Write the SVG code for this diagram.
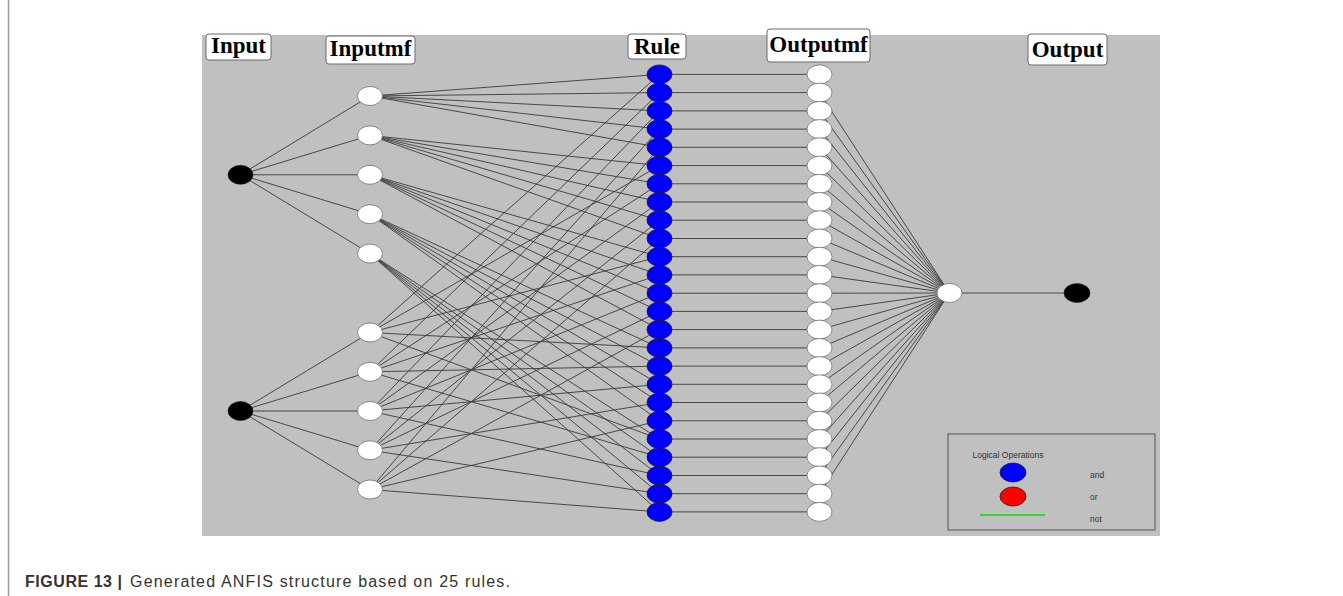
<svg xmlns="http://www.w3.org/2000/svg" width="1343" height="596" viewBox="0 0 1343 596">
<style>
.bg{fill:#c0c0c0}
.lbl{fill:#fff;stroke:#6a6a6a;stroke-width:1}
.lt{font-family:"Liberation Serif","Times New Roman",serif;font-weight:bold;font-size:23px;fill:#000;text-anchor:middle}
.c{stroke:#3a3a3a;stroke-width:0.9;fill:none}
.w{fill:#fff;stroke:#707070;stroke-width:0.8}
.b{fill:#0000ff;stroke:#202020;stroke-width:0.8}
.k{fill:#000;stroke:#202020;stroke-width:0.6}
.sm{font-family:"Liberation Sans",Arial,sans-serif;font-size:8.5px;fill:#333}
.cap{font-family:"Liberation Sans",Arial,sans-serif;font-size:16px;fill:#333}
</style>
<rect x="0" y="0" width="1343" height="596" fill="#fff"/>
<line x1="8.5" y1="0" x2="8.5" y2="596" stroke="#9a9a9a" stroke-width="1.5"/>
<rect class="bg" x="202" y="35" width="958" height="501"/>

<g id="connectors">
<path class="c" d="M240.5,174.8L370,96M240.5,174.8L370,135.4M240.5,174.8L370,174.8M240.5,174.8L370,214.2M240.5,174.8L370,253.6
M240.5,411L370,332.5M240.5,411L370,371.8M240.5,411L370,411M240.5,411L370,450.3M240.5,411L370,489.5"/>
<path class="c" d="M370,96L659.5,74.4M370,96L659.5,92.6M370,96L659.5,110.9M370,96L659.5,129.1M370,96L659.5,147.3
M370,135.4L659.5,165.6M370,135.4L659.5,183.8M370,135.4L659.5,202M370,135.4L659.5,220.2M370,135.4L659.5,238.5
M370,174.8L659.5,256.7M370,174.8L659.5,274.9M370,174.8L659.5,293.2M370,174.8L659.5,311.4M370,174.8L659.5,329.6
M370,214.2L659.5,347.9M370,214.2L659.5,366.1M370,214.2L659.5,384.3M370,214.2L659.5,402.5M370,214.2L659.5,420.8
M370,253.6L659.5,439M370,253.6L659.5,457.2M370,253.6L659.5,475.5M370,253.6L659.5,493.7M370,253.6L659.5,511.9"/>
<path class="c" d="M370,332.5L659.5,74.4M370,332.5L659.5,165.6M370,332.5L659.5,256.7M370,332.5L659.5,347.9M370,332.5L659.5,439
M370,371.8L659.5,92.6M370,371.8L659.5,183.8M370,371.8L659.5,274.9M370,371.8L659.5,366.1M370,371.8L659.5,457.2
M370,411L659.5,110.9M370,411L659.5,202M370,411L659.5,293.2M370,411L659.5,384.3M370,411L659.5,475.5
M370,450.3L659.5,129.1M370,450.3L659.5,220.2M370,450.3L659.5,311.4M370,450.3L659.5,402.5M370,450.3L659.5,493.7
M370,489.5L659.5,147.3M370,489.5L659.5,238.5M370,489.5L659.5,329.6M370,489.5L659.5,420.8M370,489.5L659.5,511.9"/>
<path class="c" d="M659.5,74.4H819.5M659.5,92.6H819.5M659.5,110.9H819.5M659.5,129.1H819.5M659.5,147.3H819.5
M659.5,165.6H819.5M659.5,183.8H819.5M659.5,202H819.5M659.5,220.2H819.5M659.5,238.5H819.5
M659.5,256.7H819.5M659.5,274.9H819.5M659.5,293.2H819.5M659.5,311.4H819.5M659.5,329.6H819.5
M659.5,347.9H819.5M659.5,366.1H819.5M659.5,384.3H819.5M659.5,402.5H819.5M659.5,420.8H819.5
M659.5,439H819.5M659.5,457.2H819.5M659.5,475.5H819.5M659.5,493.7H819.5M659.5,511.9H819.5"/>
<path class="c" d="M819.5,92.6L949.5,293M819.5,110.9L949.5,293M819.5,129.1L949.5,293M819.5,147.3L949.5,293
M819.5,165.6L949.5,293M819.5,183.8L949.5,293M819.5,202L949.5,293M819.5,220.2L949.5,293M819.5,238.5L949.5,293
M819.5,256.7L949.5,293M819.5,274.9L949.5,293M819.5,293.2L949.5,293M819.5,311.4L949.5,293M819.5,329.6L949.5,293
M819.5,347.9L949.5,293M819.5,366.1L949.5,293M819.5,384.3L949.5,293M819.5,402.5L949.5,293M819.5,420.8L949.5,293
M819.5,439L949.5,293M819.5,457.2L949.5,293M819.5,475.5L949.5,293M819.5,493.7L949.5,293"/>
<path class="c" d="M949.5,293H1077" stroke-width="1.3"/>
</g>

<g id="label-input"><rect class="lbl" x="206" y="34" width="65" height="26" rx="3"/><text class="lt" x="238.5" y="53">Input</text></g>
<g id="label-inputmf"><rect class="lbl" x="326" y="36" width="89" height="28" rx="3"/><text class="lt" x="370.5" y="56">Inputmf</text></g>
<g id="label-rule"><rect class="lbl" x="628" y="34" width="58" height="25" rx="3"/><text class="lt" x="657" y="54">Rule</text></g>
<g id="label-outputmf"><rect class="lbl" x="767" y="29" width="103" height="33" rx="3"/><text class="lt" x="818.5" y="52">Outputmf</text></g>
<g id="label-output"><rect class="lbl" x="1028" y="34" width="79" height="31" rx="3"/><text class="lt" x="1067.5" y="57">Output</text></g>

<g id="input1"><ellipse class="k" cx="240.5" cy="174.8" rx="12.5" ry="9.5"/></g>
<g id="input2"><ellipse class="k" cx="240.5" cy="411" rx="12.5" ry="9.5"/></g>

<g id="inputmf1-1"><ellipse class="w" cx="370" cy="96" rx="12.5" ry="9.5"/></g>
<g id="inputmf1-2"><ellipse class="w" cx="370" cy="135.4" rx="12.5" ry="9.5"/></g>
<g id="inputmf1-3"><ellipse class="w" cx="370" cy="174.8" rx="12.5" ry="9.5"/></g>
<g id="inputmf1-4"><ellipse class="w" cx="370" cy="214.2" rx="12.5" ry="9.5"/></g>
<g id="inputmf1-5"><ellipse class="w" cx="370" cy="253.6" rx="12.5" ry="9.5"/></g>
<g id="inputmf2-1"><ellipse class="w" cx="370" cy="332.5" rx="12.5" ry="9.5"/></g>
<g id="inputmf2-2"><ellipse class="w" cx="370" cy="371.8" rx="12.5" ry="9.5"/></g>
<g id="inputmf2-3"><ellipse class="w" cx="370" cy="411" rx="12.5" ry="9.5"/></g>
<g id="inputmf2-4"><ellipse class="w" cx="370" cy="450.3" rx="12.5" ry="9.5"/></g>
<g id="inputmf2-5"><ellipse class="w" cx="370" cy="489.5" rx="12.5" ry="9.5"/></g>

<g id="rule1"><ellipse class="b" cx="659.5" cy="74.4" rx="12.5" ry="9.5"/></g>
<g id="rule2"><ellipse class="b" cx="659.5" cy="92.6" rx="12.5" ry="9.5"/></g>
<g id="rule3"><ellipse class="b" cx="659.5" cy="110.9" rx="12.5" ry="9.5"/></g>
<g id="rule4"><ellipse class="b" cx="659.5" cy="129.1" rx="12.5" ry="9.5"/></g>
<g id="rule5"><ellipse class="b" cx="659.5" cy="147.3" rx="12.5" ry="9.5"/></g>
<g id="rule6"><ellipse class="b" cx="659.5" cy="165.6" rx="12.5" ry="9.5"/></g>
<g id="rule7"><ellipse class="b" cx="659.5" cy="183.8" rx="12.5" ry="9.5"/></g>
<g id="rule8"><ellipse class="b" cx="659.5" cy="202" rx="12.5" ry="9.5"/></g>
<g id="rule9"><ellipse class="b" cx="659.5" cy="220.2" rx="12.5" ry="9.5"/></g>
<g id="rule10"><ellipse class="b" cx="659.5" cy="238.5" rx="12.5" ry="9.5"/></g>
<g id="rule11"><ellipse class="b" cx="659.5" cy="256.7" rx="12.5" ry="9.5"/></g>
<g id="rule12"><ellipse class="b" cx="659.5" cy="274.9" rx="12.5" ry="9.5"/></g>
<g id="rule13"><ellipse class="b" cx="659.5" cy="293.2" rx="12.5" ry="9.5"/></g>
<g id="rule14"><ellipse class="b" cx="659.5" cy="311.4" rx="12.5" ry="9.5"/></g>
<g id="rule15"><ellipse class="b" cx="659.5" cy="329.6" rx="12.5" ry="9.5"/></g>
<g id="rule16"><ellipse class="b" cx="659.5" cy="347.9" rx="12.5" ry="9.5"/></g>
<g id="rule17"><ellipse class="b" cx="659.5" cy="366.1" rx="12.5" ry="9.5"/></g>
<g id="rule18"><ellipse class="b" cx="659.5" cy="384.3" rx="12.5" ry="9.5"/></g>
<g id="rule19"><ellipse class="b" cx="659.5" cy="402.5" rx="12.5" ry="9.5"/></g>
<g id="rule20"><ellipse class="b" cx="659.5" cy="420.8" rx="12.5" ry="9.5"/></g>
<g id="rule21"><ellipse class="b" cx="659.5" cy="439" rx="12.5" ry="9.5"/></g>
<g id="rule22"><ellipse class="b" cx="659.5" cy="457.2" rx="12.5" ry="9.5"/></g>
<g id="rule23"><ellipse class="b" cx="659.5" cy="475.5" rx="12.5" ry="9.5"/></g>
<g id="rule24"><ellipse class="b" cx="659.5" cy="493.7" rx="12.5" ry="9.5"/></g>
<g id="rule25"><ellipse class="b" cx="659.5" cy="511.9" rx="12.5" ry="9.5"/></g>

<g id="outputmf1"><ellipse class="w" cx="819.5" cy="74.4" rx="12.5" ry="9.5"/></g>
<g id="outputmf2"><ellipse class="w" cx="819.5" cy="92.6" rx="12.5" ry="9.5"/></g>
<g id="outputmf3"><ellipse class="w" cx="819.5" cy="110.9" rx="12.5" ry="9.5"/></g>
<g id="outputmf4"><ellipse class="w" cx="819.5" cy="129.1" rx="12.5" ry="9.5"/></g>
<g id="outputmf5"><ellipse class="w" cx="819.5" cy="147.3" rx="12.5" ry="9.5"/></g>
<g id="outputmf6"><ellipse class="w" cx="819.5" cy="165.6" rx="12.5" ry="9.5"/></g>
<g id="outputmf7"><ellipse class="w" cx="819.5" cy="183.8" rx="12.5" ry="9.5"/></g>
<g id="outputmf8"><ellipse class="w" cx="819.5" cy="202" rx="12.5" ry="9.5"/></g>
<g id="outputmf9"><ellipse class="w" cx="819.5" cy="220.2" rx="12.5" ry="9.5"/></g>
<g id="outputmf10"><ellipse class="w" cx="819.5" cy="238.5" rx="12.5" ry="9.5"/></g>
<g id="outputmf11"><ellipse class="w" cx="819.5" cy="256.7" rx="12.5" ry="9.5"/></g>
<g id="outputmf12"><ellipse class="w" cx="819.5" cy="274.9" rx="12.5" ry="9.5"/></g>
<g id="outputmf13"><ellipse class="w" cx="819.5" cy="293.2" rx="12.5" ry="9.5"/></g>
<g id="outputmf14"><ellipse class="w" cx="819.5" cy="311.4" rx="12.5" ry="9.5"/></g>
<g id="outputmf15"><ellipse class="w" cx="819.5" cy="329.6" rx="12.5" ry="9.5"/></g>
<g id="outputmf16"><ellipse class="w" cx="819.5" cy="347.9" rx="12.5" ry="9.5"/></g>
<g id="outputmf17"><ellipse class="w" cx="819.5" cy="366.1" rx="12.5" ry="9.5"/></g>
<g id="outputmf18"><ellipse class="w" cx="819.5" cy="384.3" rx="12.5" ry="9.5"/></g>
<g id="outputmf19"><ellipse class="w" cx="819.5" cy="402.5" rx="12.5" ry="9.5"/></g>
<g id="outputmf20"><ellipse class="w" cx="819.5" cy="420.8" rx="12.5" ry="9.5"/></g>
<g id="outputmf21"><ellipse class="w" cx="819.5" cy="439" rx="12.5" ry="9.5"/></g>
<g id="outputmf22"><ellipse class="w" cx="819.5" cy="457.2" rx="12.5" ry="9.5"/></g>
<g id="outputmf23"><ellipse class="w" cx="819.5" cy="475.5" rx="12.5" ry="9.5"/></g>
<g id="outputmf24"><ellipse class="w" cx="819.5" cy="493.7" rx="12.5" ry="9.5"/></g>
<g id="outputmf25"><ellipse class="w" cx="819.5" cy="511.9" rx="12.5" ry="9.5"/></g>

<g id="output-sum"><ellipse class="w" cx="949.5" cy="293" rx="12.5" ry="9.5"/></g>
<g id="output"><ellipse class="k" cx="1077" cy="293" rx="13" ry="9.5"/></g>

<g id="legend">
<rect x="948" y="434" width="207" height="96" fill="none" stroke="#555" stroke-width="1"/>
<text class="sm" x="1008" y="458" text-anchor="middle">Logical Operations</text>
<ellipse class="b" cx="1013" cy="472.5" rx="13" ry="9.5"/>
<ellipse cx="1013" cy="496.5" rx="13" ry="9.5" fill="#ff0000" stroke="#202020" stroke-width="0.8"/>
<line x1="980" y1="515" x2="1045" y2="515" stroke="#00e000" stroke-width="1.5"/>
<text class="sm" x="1090" y="478">and</text>
<text class="sm" x="1090" y="500">or</text>
<text class="sm" x="1090" y="522">not</text>
</g>

<g id="caption">
<text class="cap" x="25" y="587" font-weight="bold" fill="#222" textLength="97" lengthAdjust="spacing">FIGURE 13 |</text>
<text class="cap" x="130" y="587" textLength="380" lengthAdjust="spacing">Generated ANFIS structure based on 25 rules.</text>
</g>
</svg>
